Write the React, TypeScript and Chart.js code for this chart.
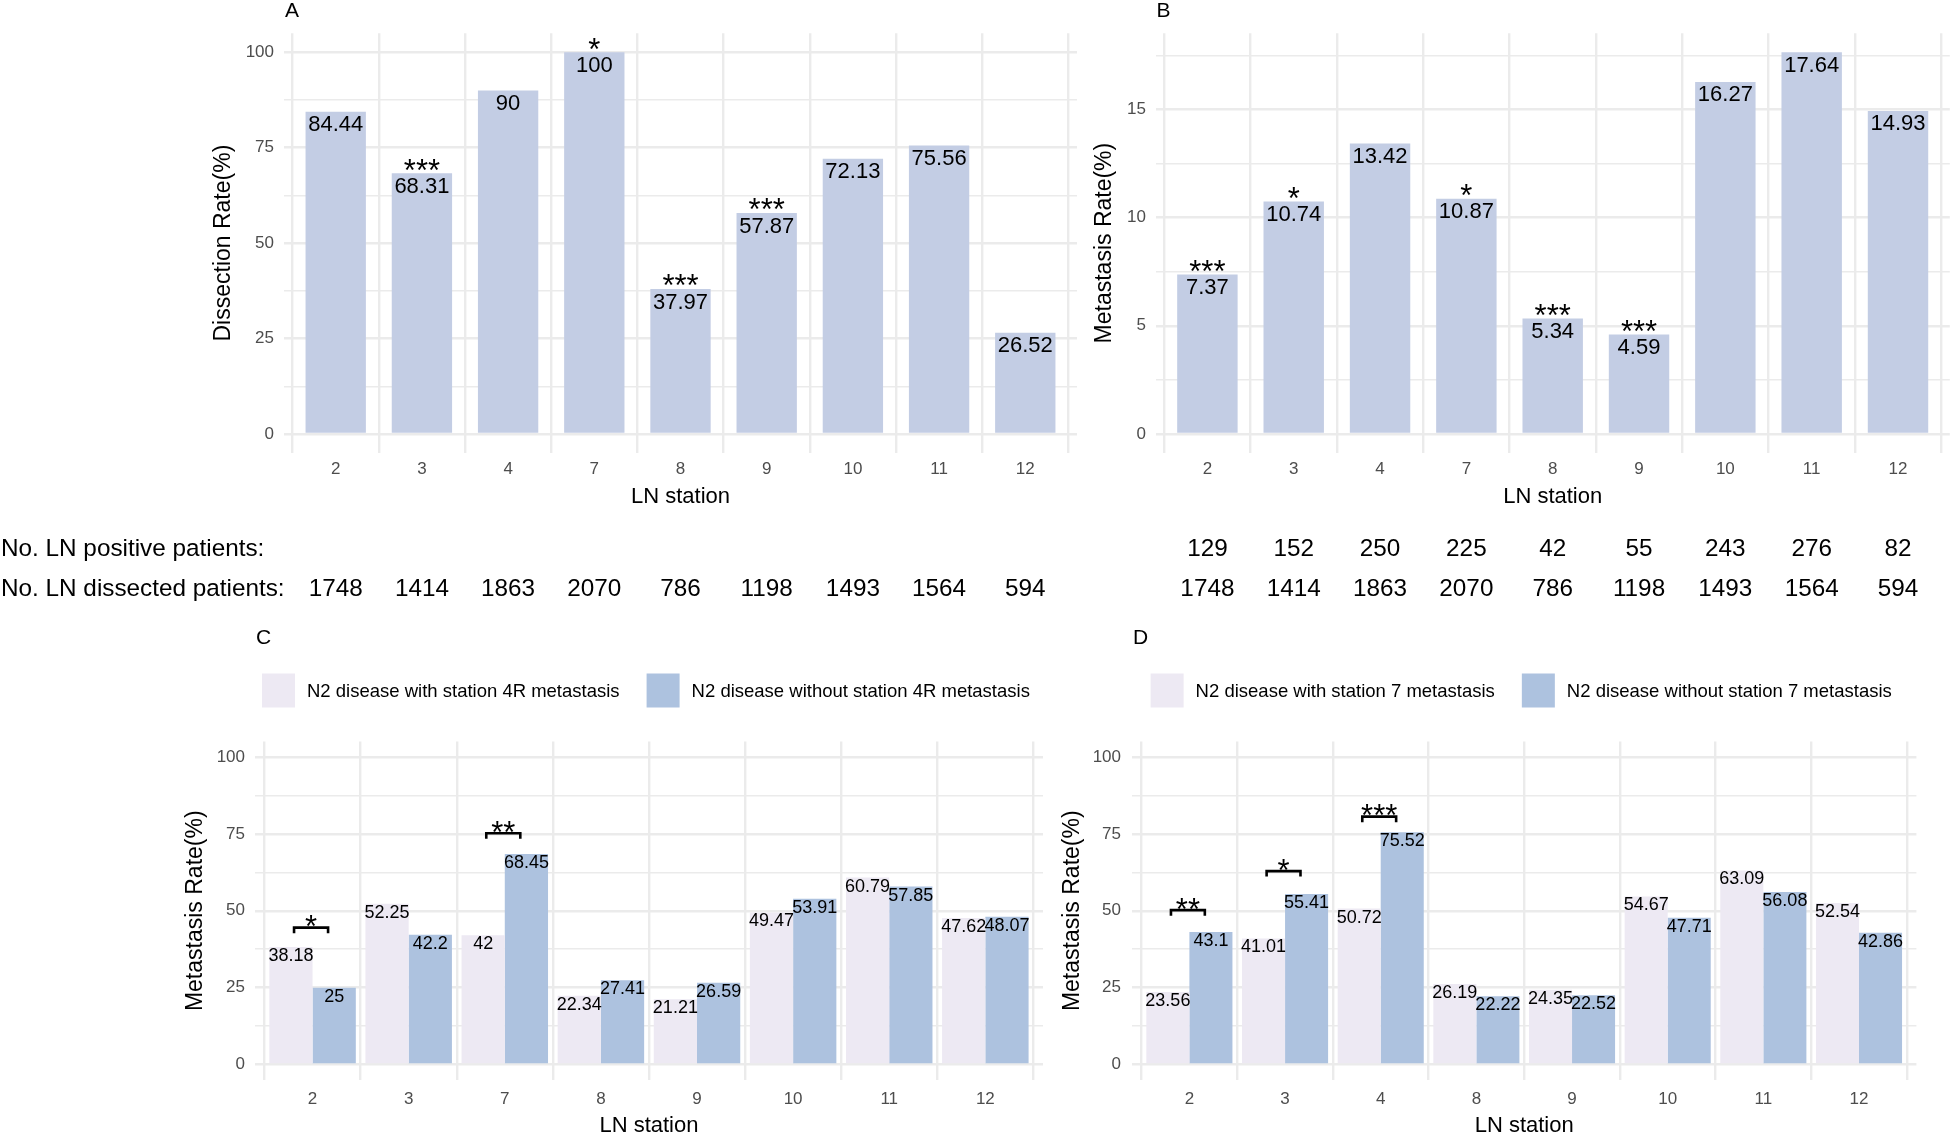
import React, { useEffect, useRef } from "react";
import { Chart, registerables } from "chart.js";

Chart.register(...registerables);

const FONT = "'Liberation Sans', Arial, Helvetica, sans-serif";

// ---------- Data: panels A & B ----------
const stationsAB = ["2", "3", "4", "7", "8", "9", "10", "11", "12"];
const dissectionRate = [84.44, 68.31, 90, 100, 37.97, 57.87, 72.13, 75.56, 26.52];
const dissectionSig = ["", "***", "", "*", "***", "***", "", "", ""];
const metastasisRate = [7.37, 10.74, 13.42, 10.87, 5.34, 4.59, 16.27, 17.64, 14.93];
const metastasisSig = ["***", "*", "", "*", "***", "***", "", "", ""];
const positivePatients = [129, 152, 250, 225, 42, 55, 243, 276, 82];
const dissectedPatients = [1748, 1414, 1863, 2070, 786, 1198, 1493, 1564, 594];

// ---------- Data: panel C ----------
const stationsC = ["2", "3", "7", "8", "9", "10", "11", "12"];
const withStation4R = [38.18, 52.25, 42, 22.34, 21.21, 49.47, 60.79, 47.62];
const withoutStation4R = [25, 42.2, 68.45, 27.41, 26.59, 53.91, 57.85, 48.07];
const sigC = ["*", "", "**", "", "", "", "", ""];
const bracketC = [44.5, 0, 75.2, 0, 0, 0, 0, 0];
const legendC = ["N2 disease with station 4R metastasis", "N2 disease without station 4R metastasis"];

// ---------- Data: panel D ----------
const stationsD = ["2", "3", "4", "8", "9", "10", "11", "12"];
const withStation7 = [23.56, 41.01, 50.72, 26.19, 24.35, 54.67, 63.09, 52.54];
const withoutStation7 = [43.1, 55.41, 75.52, 22.22, 22.52, 47.71, 56.08, 42.86];
const sigD = ["**", "*", "***", "", "", "", "", ""];
const bracketD = [50.2, 62.9, 80.6, 0, 0, 0, 0, 0];
const legendD = ["N2 disease with station 7 metastasis", "N2 disease without station 7 metastasis"];

// ---------- Tick labels ----------
const ticksPercent = [0, 25, 50, 75, 100];
const ticksB = [0, 5, 10, 15];

const tableRowLabels = ["No. LN positive patients:", "No. LN dissected patients:"];

const COLOR_AB = "#c3cde4";
const COLOR_WITH = "#ede9f3";
const COLOR_WITHOUT = "#adc2df";
const GRID = "#ebebeb";
const TICK_COLOR = "#4d4d4d";

function expand(lo: number, hi: number) {
  const r = hi - lo;
  return [lo - 0.05 * r, hi + 0.05 * r];
}
function minorTicks(major: number[], max: number) {
  const out: number[] = [];
  for (let i = 0; i < major.length - 1; i++) out.push((major[i] + major[i + 1]) / 2);
  const step = major[1] - major[0];
  const extra = major[major.length - 1] + step / 2;
  if (extra <= max) out.push(extra);
  return out;
}

type Series = { values: number[]; color: string };
type Spec = {
  key: string;
  letter: string;
  left: number;
  top: number;
  w: number;
  h: number;
  area: { l: number; t: number; r: number; b: number };
  labels: string[];
  series: Series[];
  yRange: number[];
  yMajor: number[];
  yTitle: string;
  yTitleX: number;
  yTickRight: number;
  xTickY: number;
  xTitleY: number;
  barPct: number;
  catPct: number;
  valueFont: number;
  valueDy: number;
  letterY: number;
  barSig?: string[];
  brackets?: { sig: string[]; heights: number[] };
  legend?: { names: string[]; y: number };
  table?: { rows: (number[] | null)[]; ys: number[]; showLabels: boolean };
};

const Y_TITLE_SIZE = 23;
const X_TITLE_SIZE = 22;
const TICK_SIZE = 17;

function makeConfig(p: Spec): any {
  const n = p.labels.length;
  const yMinor = minorTicks(p.yMajor, p.yRange[1]);
  const allY = [...p.yMajor, ...yMinor].sort((a, b) => a - b);
  const lhTick = TICK_SIZE * 1.2;
  const lhX = X_TITLE_SIZE * 1.2;
  const lhY = Y_TITLE_SIZE * 1.2;

  const plugin = {
    id: "annot" + p.key,
    afterDatasetsDraw(chart: any) {
      const ctx = chart.ctx;
      const xs = chart.scales.x;
      const ys = chart.scales.y;
      ctx.save();
      ctx.fillStyle = "#000";
      ctx.textAlign = "center";
      ctx.textBaseline = "alphabetic";
      ctx.font = `${p.valueFont}px ${FONT}`;
      p.series.forEach((s, di) => {
        const meta = chart.getDatasetMeta(di);
        meta.data.forEach((el: any, i: number) => {
          ctx.fillText(String(s.values[i]), el.x, el.y + p.valueDy);
        });
      });
      ctx.font = `31px ${FONT}`;
      if (p.barSig) {
        const meta = chart.getDatasetMeta(0);
        p.barSig.forEach((s, i) => {
          if (!s) return;
          const el = meta.data[i];
          ctx.fillText(s, el.x, el.y + 7.3);
        });
      }
      if (p.brackets) {
        const spacing = xs.getPixelForValue(1) - xs.getPixelForValue(0);
        const half = spacing * 0.177;
        ctx.strokeStyle = "#000";
        ctx.lineWidth = 2.6;
        p.brackets.sig.forEach((s, i) => {
          if (!s) return;
          const cx = xs.getPixelForValue(i) - 1.5;
          const y = ys.getPixelForValue(p.brackets!.heights[i]);
          ctx.beginPath();
          ctx.moveTo(cx - half, y + 5.5);
          ctx.lineTo(cx - half, y);
          ctx.lineTo(cx + half, y);
          ctx.lineTo(cx + half, y + 5.5);
          ctx.stroke();
          ctx.fillText(s, cx, y + 9.8);
        });
      }
      ctx.restore();
    },
    afterDraw(chart: any) {
      const ctx = chart.ctx;
      const xs = chart.scales.x;
      const ca = chart.chartArea;
      ctx.save();
      ctx.fillStyle = "#000";
      ctx.textBaseline = "middle";
      ctx.textAlign = "left";
      ctx.font = `21px ${FONT}`;
      ctx.fillText(p.letter, ca.left + 1, p.letterY);

      if (p.legend) {
        ctx.font = `18.5px ${FONT}`;
        const sw = 33, sh = 34, gapText = 12, gapItem = 27;
        const w0 = ctx.measureText(p.legend.names[0]).width;
        const w1 = ctx.measureText(p.legend.names[1]).width;
        const total = sw + gapText + w0 + gapItem + sw + gapText + w1;
        let x = (ca.left + ca.right) / 2 - 3 - total / 2;
        const y = p.legend.y;
        [0, 1].forEach((k) => {
          ctx.fillStyle = p.series[k].color;
          ctx.fillRect(x, y - sh / 2, sw, sh);
          ctx.fillStyle = "#000";
          ctx.fillText(p.legend!.names[k], x + sw + gapText, y + 1);
          x += sw + gapText + (k === 0 ? w0 : w1) + gapItem;
        });
      }

      if (p.table) {
        ctx.font = `24.3px ${FONT}`;
        ctx.fillStyle = "#000";
        if (p.table.showLabels) {
          ctx.textAlign = "left";
          tableRowLabels.forEach((t, r) => ctx.fillText(t, 1, p.table!.ys[r]));
        }
        ctx.textAlign = "center";
        p.table.rows.forEach((row, r) => {
          if (!row) return;
          row.forEach((v, i) => ctx.fillText(String(v), xs.getPixelForValue(i), p.table!.ys[r]));
        });
      }
      ctx.restore();
    },
  };

  return {
    type: "bar",
    data: {
      datasets: p.series.map((s) => ({
        data: s.values.map((v, i) => ({ x: i, y: v })),
        backgroundColor: s.color,
        borderWidth: 0,
        barPercentage: p.barPct,
        categoryPercentage: p.catPct,
      })),
    },
    options: {
      responsive: false,
      animation: false,
      events: [],
      layout: { padding: { left: 0, top: p.area.t, right: p.w - p.area.r, bottom: 0 } },
      plugins: { legend: { display: false }, tooltip: { enabled: false }, title: { display: false } },
      scales: {
        x: {
          type: "linear",
          min: -0.6,
          max: n - 1 + 0.6,
          offset: false,
          afterBuildTicks: (s: any) => {
            s.ticks = p.labels.map((_, i) => ({ value: i }));
          },
          ticks: {
            callback: (v: any) => p.labels[v] ?? "",
            font: { family: FONT, size: TICK_SIZE },
            color: TICK_COLOR,
            padding: p.xTickY - p.area.b - lhTick / 2,
            maxRotation: 0,
            autoSkip: false,
          },
          grid: { color: GRID, lineWidth: 2.4, drawTicks: false },
          border: { display: false },
          title: {
            display: true,
            text: "LN station",
            color: "#000",
            font: { family: FONT, size: X_TITLE_SIZE },
            padding: { top: 0, bottom: p.h - p.xTitleY - lhX / 2 },
          },
          afterFit: (s: any) => {
            s.height = p.h - p.area.b;
            s.paddingLeft = 0;
            s.paddingRight = 0;
          },
        },
        y: {
          type: "linear",
          min: p.yRange[0],
          max: p.yRange[1],
          afterBuildTicks: (s: any) => {
            s.ticks = allY.map((v) => ({ value: v }));
          },
          ticks: {
            callback: (v: any) => (p.yMajor.includes(v) ? String(v) : ""),
            font: { family: FONT, size: TICK_SIZE },
            color: TICK_COLOR,
            padding: p.area.l - p.yTickRight,
          },
          grid: {
            color: GRID,
            lineWidth: (c: any) => (c.tick && p.yMajor.includes(c.tick.value) ? 2.4 : 1.4),
            drawTicks: false,
          },
          border: { display: false },
          title: {
            display: true,
            text: p.yTitle,
            color: "#000",
            font: { family: FONT, size: Y_TITLE_SIZE },
            padding: { top: p.yTitleX - lhY / 2, bottom: 0 },
          },
          afterFit: (s: any) => {
            s.width = p.area.l;
            s.paddingTop = 0;
            s.paddingBottom = 0;
          },
        },
      },
    },
    plugins: [plugin],
  };
}

const TABLE_Y = [549, 589];

const specs: Spec[] = [
  {
    key: "A",
    letter: "A",
    left: 0,
    top: 0,
    w: 1090,
    h: 620,
    area: { l: 284, t: 33.2, r: 1077, b: 453 },
    labels: stationsAB,
    series: [{ values: dissectionRate, color: COLOR_AB }],
    yRange: expand(0, Math.max(...dissectionRate)),
    yMajor: ticksPercent,
    yTitle: "Dissection Rate(%)",
    yTitleX: 224,
    yTickRight: 274,
    xTickY: 469,
    xTitleY: 496.5,
    barPct: 0.7,
    catPct: 1,
    valueFont: 22,
    valueDy: 19.5,
    letterY: 11,
    barSig: dissectionSig,
    table: { rows: [null, dissectedPatients], ys: TABLE_Y, showLabels: true },
  },
  {
    key: "B",
    letter: "B",
    left: 1090,
    top: 0,
    w: 862,
    h: 620,
    area: { l: 65.6, t: 33.2, r: 859.8, b: 453 },
    labels: stationsAB,
    series: [{ values: metastasisRate, color: COLOR_AB }],
    yRange: expand(0, Math.max(...metastasisRate)),
    yMajor: ticksB,
    yTitle: "Metastasis Rate(%)",
    yTitleX: 15,
    yTickRight: 56,
    xTickY: 469,
    xTitleY: 496.5,
    barPct: 0.7,
    catPct: 1,
    valueFont: 22,
    valueDy: 19.5,
    letterY: 11,
    barSig: metastasisSig,
    table: { rows: [positivePatients, dissectedPatients], ys: TABLE_Y, showLabels: false },
  },
  {
    key: "C",
    letter: "C",
    left: 0,
    top: 620,
    w: 1055,
    h: 512,
    area: { l: 254.9, t: 121.6, r: 1043, b: 459.9 },
    labels: stationsC,
    series: [
      { values: withStation4R, color: COLOR_WITH },
      { values: withoutStation4R, color: COLOR_WITHOUT },
    ],
    yRange: expand(0, 100),
    yMajor: ticksPercent,
    yTitle: "Metastasis Rate(%)",
    yTitleX: 195.5,
    yTickRight: 245,
    xTickY: 479,
    xTitleY: 505.5,
    barPct: 1,
    catPct: 0.9,
    valueFont: 18,
    valueDy: 14,
    letterY: 18.5,
    brackets: { sig: sigC, heights: bracketC },
    legend: { names: legendC, y: 70.5 },
  },
  {
    key: "D",
    letter: "D",
    left: 1055,
    top: 620,
    w: 897,
    h: 512,
    area: { l: 77, t: 121.6, r: 861.4, b: 459.9 },
    labels: stationsD,
    series: [
      { values: withStation7, color: COLOR_WITH },
      { values: withoutStation7, color: COLOR_WITHOUT },
    ],
    yRange: expand(0, 100),
    yMajor: ticksPercent,
    yTitle: "Metastasis Rate(%)",
    yTitleX: 18,
    yTickRight: 66,
    xTickY: 479,
    xTitleY: 505.5,
    barPct: 1,
    catPct: 0.9,
    valueFont: 18,
    valueDy: 14,
    letterY: 18.5,
    brackets: { sig: sigD, heights: bracketD },
    legend: { names: legendD, y: 70.5 },
  },
];

function Panel({ spec }: { spec: Spec }) {
  const ref = useRef<HTMLCanvasElement | null>(null);
  useEffect(() => {
    if (!ref.current) return;
    const chart = new Chart(ref.current, makeConfig(spec));
    return () => chart.destroy();
  }, [spec]);
  return (
    <canvas
      ref={ref}
      width={spec.w}
      height={spec.h}
      style={{ position: "absolute", left: spec.left, top: spec.top, width: spec.w, height: spec.h }}
    />
  );
}

export default function App() {
  return (
    <div
      style={{
        position: "absolute",
        left: 0,
        top: 0,
        width: 1952,
        height: 1132,
        overflow: "hidden",
        background: "#ffffff",
      }}
    >
      {specs.map((s) => (
        <Panel key={s.key} spec={s} />
      ))}
    </div>
  );
}
